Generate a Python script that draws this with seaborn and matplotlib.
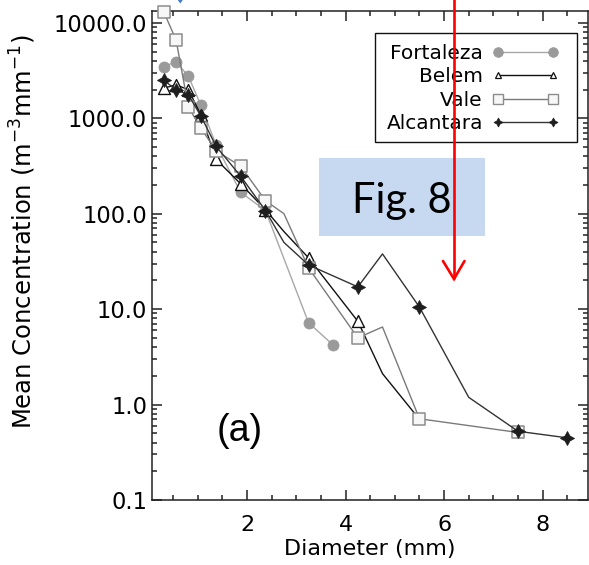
import numpy as np
import pandas as pd
import matplotlib
matplotlib.use("Agg")
import matplotlib.pyplot as plt
from matplotlib.lines import Line2D
from matplotlib.patches import Rectangle, Polygon
from matplotlib.ticker import FixedLocator, MultipleLocator, LogLocator, NullFormatter, FixedFormatter
import seaborn as sns

# Mean drop size distributions per site: diameter (mm), concentration (m^-3 mm^-1),
# and whether a symbol is drawn at that bin
sites = ["Fortaleza", "Belem", "Vale", "Alcantara"]

fortaleza_d = [0.312, 0.562, 0.812, 1.062, 1.375, 1.875, 2.375, 3.25, 3.75]
fortaleza_n = [3450, 3930, 2740, 1385, 520, 167, 108, 7.2, 4.2]
fortaleza_sym = [1, 1, 1, 1, 1, 1, 1, 1, 1]

belem_d = [0.312, 0.562, 0.812, 1.062, 1.375, 1.875, 2.375, 2.75, 3.25, 4.25, 4.75, 5.5]
belem_n = [2070, 2240, 1990, 1090, 370, 205, 110, 65, 34.4, 7.45, 2.11, 0.70]
belem_sym = [1, 1, 1, 1, 1, 1, 1, 0, 1, 1, 0, 0]

vale_d = [0.312, 0.562, 0.812, 1.062, 1.375, 1.875, 2.375, 2.75, 3.25, 4.25, 4.75, 5.5, 7.5]
vale_n = [13000, 6600, 1310, 790, 457, 313, 137, 100, 27, 5.0, 6.5, 0.71, 0.51]
vale_sym = [1, 1, 1, 1, 1, 1, 1, 0, 1, 1, 0, 1, 1]

alcantara_d = [0.312, 0.562, 0.812, 1.062, 1.375, 1.875, 2.375, 2.75, 3.25, 4.25, 4.75,
               5.5, 6.5, 7.5, 8.5]
alcantara_n = [2500, 1990, 1760, 1060, 507, 246, 108, 50, 29, 17.1, 37.9,
               10.5, 1.19, 0.525, 0.448]
alcantara_sym = [1, 1, 1, 1, 1, 1, 1, 0, 1, 1, 0, 1, 0, 1, 1]

ytick_values = [0.1, 1, 10, 100, 1000, 10000]
ytick_labels = ["0.1", "1.0", "10.0", "100.0", "1000.0", "10000.0"]
xtick_values = [2, 4, 6, 8]

frames = []
for name, d, n, s in [("Fortaleza", fortaleza_d, fortaleza_n, fortaleza_sym),
                      ("Belem", belem_d, belem_n, belem_sym),
                      ("Vale", vale_d, vale_n, vale_sym),
                      ("Alcantara", alcantara_d, alcantara_n, alcantara_sym)]:
    frames.append(pd.DataFrame({"site": name, "diameter": d, "conc": n, "sym": s}))
dsd = pd.concat(frames, ignore_index=True)

STAR4 = (4, 1, 0)
styles = {
    "Fortaleza": dict(line="#a8a8a8", marker="o", ms=8.0, face="#9a9a9a", edge="#9a9a9a", mew=0.5,
                      lms=7.0, lmew=0.5),
    "Belem": dict(line="#111111", marker="^", ms=8.6, face="white", edge="#111111", mew=1.0,
                  lms=5.0, lmew=0.9),
    "Vale": dict(line="#7a7a7a", marker="s", ms=8.4, face="#f7f7f7", edge="#8c8c8c", mew=1.1,
                 lms=7.0, lmew=1.0),
    "Alcantara": dict(line="#333333", marker=STAR4, ms=10.0, face="#1e1e1e", edge="#1e1e1e", mew=0.6,
                      lms=6.5, lmew=0.5),
}

sns.set_style("ticks")
plt.rcParams["font.family"] = ["DejaVu Sans"]
plt.rcParams["mathtext.fontset"] = "dejavusans"
for key in ["text.color", "axes.labelcolor", "xtick.color", "ytick.color"]:
    plt.rcParams[key] = "black"

W, H = 589, 565
fig = plt.figure(figsize=(W / 100, H / 100), dpi=100)
fig.patch.set_facecolor("white")
ax = fig.add_axes([152 / W, 1 - 500 / H, 436 / W, 489 / H])
ax.set_facecolor("white")

for i, name in enumerate(sites):
    sub = dsd[dsd["site"] == name]
    st = styles[name]
    sns.lineplot(data=sub, x="diameter", y="conc", ax=ax, color=st["line"], lw=1.0,
                 estimator=None, sort=False, legend=False, zorder=2 + i)
    marked = sub[sub["sym"] == 1]
    sns.scatterplot(data=marked, x="diameter", y="conc", ax=ax, marker=st["marker"],
                    s=st["ms"] ** 2, color=st["face"], edgecolor=st["edge"],
                    linewidth=st["mew"], legend=False, zorder=2.5 + i, clip_on=False)

ax.set_yscale("log")
ax.set_xlim(0.073, 8.92)
ax.set_ylim(0.1, 13300)

ax.yaxis.set_major_locator(FixedLocator(ytick_values))
ax.yaxis.set_major_formatter(FixedFormatter(ytick_labels))
ax.yaxis.set_minor_locator(LogLocator(base=10, subs=np.arange(2, 10), numticks=20))
ax.yaxis.set_minor_formatter(NullFormatter())
ax.xaxis.set_major_locator(FixedLocator(xtick_values))
ax.xaxis.set_minor_locator(MultipleLocator(0.5))

for side in ["left", "right", "top", "bottom"]:
    ax.spines[side].set_visible(True)
    ax.spines[side].set_linewidth(1.1)
    ax.spines[side].set_color("#222222")

ax.tick_params(which="both", direction="in", top=True, right=True, width=1.1, color="#222222")
ax.tick_params(which="major", length=7.2)
ax.tick_params(which="minor", length=3.6)
ax.tick_params(axis="y", which="major", labelsize=16.3, pad=3.5)
ax.tick_params(axis="x", which="major", labelsize=16, pad=11)

ax.set_xlabel("Diameter (mm)", fontsize=16, labelpad=3)
ax.set_ylabel("Mean Concentration (m$^{-3}$mm$^{-1}$)", fontsize=17.5)
ax.yaxis.set_label_coords(-0.262, 0.548)

# Figure-pixel helpers (origin at top-left)
def fx(px):
    return px / W

def fy(py):
    return 1 - py / H

fig.text(fx(240), fy(431), "(a)", fontsize=27, family="Liberation Sans",
         ha="center", va="center")

# Legend: label text to the left of each sample line, symbols at both ends
handles = []
for name in sites:
    st = styles[name]
    handles.append(Line2D([], [], color=st["line"], lw=1.0, marker=st["marker"],
                          markersize=st["lms"], markerfacecolor=st["face"],
                          markeredgecolor=st["edge"], markeredgewidth=st["lmew"]))
leg = ax.legend(handles, sites, loc="upper right",
                bbox_to_anchor=(559 / W, 1 - 44 / H), bbox_transform=fig.transFigure,
                frameon=False, markerfirst=False, numpoints=2, fontsize=14.5,
                borderpad=0, borderaxespad=0, handlelength=3.33, handletextpad=0.45,
                labelspacing=0.22)
leg.set_zorder(6)
ax.add_patch(Rectangle((375 / W, 1 - 142 / H), 202 / W, 109 / H, transform=fig.transFigure,
                       facecolor="white", edgecolor="#111111", lw=1.0, clip_on=False, zorder=5))

# Annotations drawn above the axes
fig.add_artist(Rectangle((fx(319), fy(236)), (485 - 319) / W, (236 - 158) / H,
                         transform=fig.transFigure, facecolor="#c6d9f1", edgecolor="none",
                         zorder=10))
fig.text(fx(402), fy(213), "Fig. 8", fontsize=30, family="Lato", ha="center",
         va="baseline", color="black", zorder=11)
fig.add_artist(Line2D([fx(454), fx(454)], [fy(-2), fy(278)], transform=fig.transFigure,
                      color="#ff0000", lw=1.9, zorder=12))
fig.add_artist(Line2D([fx(443), fx(454), fx(464.5)], [fy(261), fy(279), fy(261)],
                      transform=fig.transFigure, color="#ff0000", lw=1.9, zorder=12,
                      solid_joinstyle="miter"))
fig.add_artist(Polygon([[fx(177), fy(-1)], [fx(183.5), fy(-1)], [fx(180.3), fy(3.5)]],
                       closed=True, transform=fig.transFigure, facecolor="#4a7cc7",
                       edgecolor="none", zorder=12))

fig.savefig("out.png", dpi=100, facecolor="white")
